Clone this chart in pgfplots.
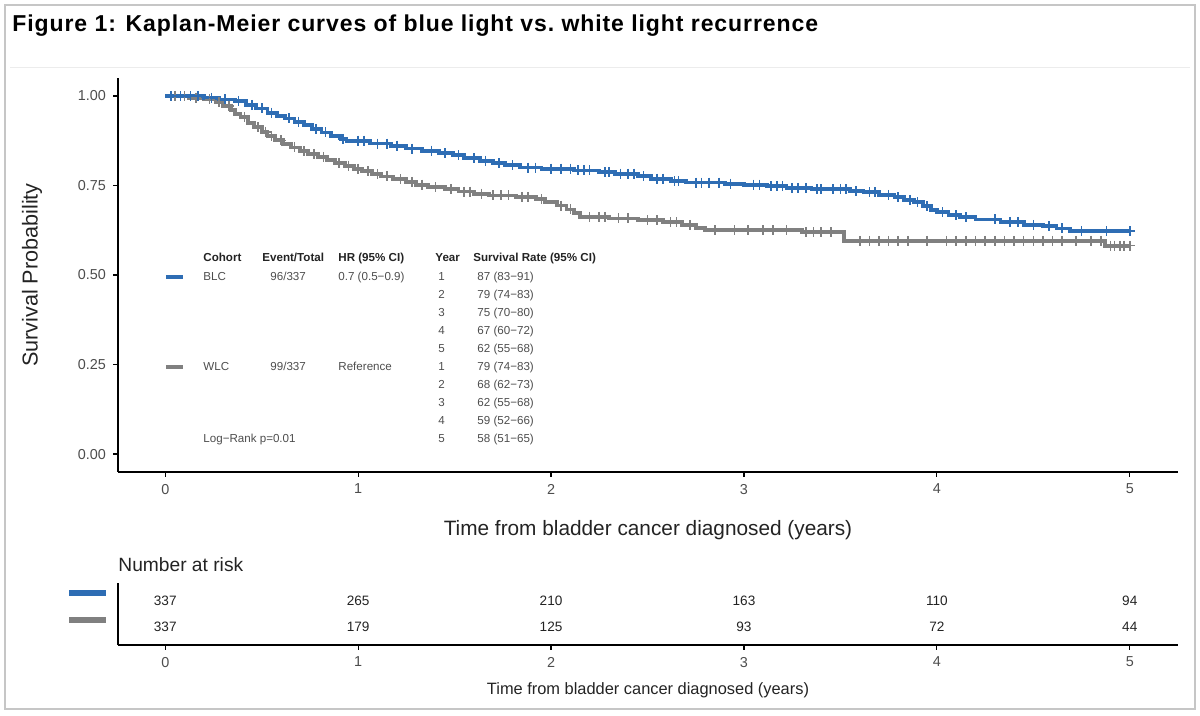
\documentclass[border=0pt]{standalone}
\usepackage{pgfplots}
\pgfplotsset{compat=1.18}
\usepackage{fontspec}
\setmainfont{Liberation Sans}
\definecolor{blc}{RGB}{46,109,180}
\definecolor{wlc}{RGB}{128,128,128}
\definecolor{txt}{RGB}{77,77,77}
\definecolor{dark}{RGB}{35,35,35}

\pgfplotstableread{
x y
0 1.000
0.20 0.995
0.28 0.990
0.36 0.985
0.42 0.975
0.47 0.965
0.53 0.953
0.58 0.945
0.62 0.937
0.67 0.928
0.72 0.918
0.76 0.908
0.81 0.898
0.86 0.889
0.91 0.880
0.94 0.875
1.06 0.867
1.17 0.861
1.25 0.853
1.33 0.847
1.42 0.840
1.49 0.834
1.55 0.826
1.63 0.819
1.70 0.812
1.76 0.806
1.84 0.800
1.95 0.797
2.12 0.792
2.25 0.788
2.33 0.783
2.45 0.776
2.52 0.769
2.62 0.762
2.70 0.758
2.90 0.755
3.00 0.752
3.12 0.748
3.22 0.743
3.35 0.739
3.55 0.735
3.62 0.731
3.70 0.724
3.78 0.717
3.83 0.710
3.88 0.703
3.93 0.692
3.97 0.682
4.00 0.675
4.06 0.667
4.12 0.661
4.20 0.655
4.33 0.648
4.45 0.640
4.55 0.636
4.62 0.630
4.69 0.622
5.00 0.622
}\blcdata

\pgfplotstableread{
x y
0 1.000
0.12 0.995
0.20 0.990
0.26 0.982
0.30 0.972
0.34 0.960
0.36 0.950
0.39 0.940
0.43 0.925
0.46 0.913
0.50 0.900
0.53 0.888
0.57 0.876
0.61 0.866
0.65 0.856
0.70 0.846
0.74 0.838
0.79 0.830
0.84 0.822
0.88 0.813
0.93 0.805
0.98 0.797
1.02 0.790
1.07 0.782
1.12 0.775
1.18 0.768
1.25 0.760
1.30 0.752
1.36 0.745
1.45 0.740
1.52 0.733
1.60 0.727
1.68 0.722
1.82 0.718
1.92 0.712
1.97 0.703
2.03 0.694
2.08 0.683
2.12 0.672
2.15 0.662
2.30 0.658
2.45 0.653
2.58 0.647
2.68 0.640
2.75 0.632
2.80 0.625
3.30 0.620
3.52 0.595
4.87 0.582
5.00 0.582
}\wlcdata

\pgfplotstableread{
x y
0.03 1.0
0.08 1.0
0.13 1.0
0.17 1.0
0.24 0.995
0.31 0.99
0.38 0.985
0.45 0.975
0.50 0.965
0.55 0.953
0.64 0.937
0.69 0.928
0.78 0.908
0.83 0.898
0.92 0.880
1.00 0.875
1.03 0.875
1.10 0.867
1.15 0.867
1.20 0.861
1.28 0.853
1.38 0.847
1.45 0.840
1.52 0.834
1.60 0.826
1.66 0.819
1.73 0.812
1.80 0.806
1.88 0.800
1.92 0.800
2.00 0.797
2.05 0.797
2.10 0.797
2.14 0.792
2.17 0.792
2.20 0.792
2.28 0.788
2.30 0.788
2.36 0.783
2.40 0.783
2.43 0.783
2.48 0.776
2.55 0.769
2.58 0.769
2.64 0.762
2.66 0.762
2.75 0.758
2.78 0.758
2.82 0.758
2.87 0.758
2.93 0.755
3.05 0.752
3.08 0.752
3.14 0.748
3.17 0.748
3.20 0.748
3.25 0.743
3.28 0.743
3.32 0.743
3.38 0.739
3.40 0.739
3.46 0.739
3.50 0.739
3.53 0.739
3.58 0.735
3.65 0.731
3.68 0.731
3.75 0.724
3.80 0.717
3.86 0.710
3.90 0.703
3.95 0.692
4.03 0.675
4.10 0.667
4.15 0.661
4.30 0.655
4.38 0.648
4.42 0.648
4.50 0.640
4.58 0.636
4.65 0.630
4.75 0.622
4.88 0.622
5.00 0.622
}\blccens

\pgfplotstableread{
x y
0.05 1.0
0.10 1.0
0.16 0.995
0.23 0.99
0.28 0.982
0.33 0.972
0.41 0.940
0.48 0.913
0.52 0.900
0.55 0.888
0.60 0.876
0.67 0.856
0.72 0.846
0.77 0.838
0.82 0.830
0.90 0.813
0.95 0.805
1.00 0.797
1.05 0.790
1.10 0.782
1.15 0.775
1.22 0.768
1.28 0.760
1.33 0.752
1.40 0.745
1.48 0.740
1.55 0.733
1.58 0.733
1.64 0.727
1.70 0.722
1.74 0.722
1.78 0.722
1.85 0.718
1.88 0.718
1.95 0.712
2.05 0.694
2.10 0.683
2.20 0.662
2.25 0.662
2.28 0.662
2.35 0.658
2.40 0.658
2.50 0.653
2.55 0.653
2.62 0.647
2.65 0.647
2.72 0.640
2.85 0.625
2.95 0.625
3.02 0.625
3.10 0.625
3.15 0.625
3.22 0.625
3.32 0.620
3.36 0.620
3.40 0.620
3.45 0.620
3.60 0.595
3.65 0.595
3.70 0.595
3.75 0.595
3.80 0.595
3.85 0.595
3.95 0.595
4.05 0.595
4.10 0.595
4.15 0.595
4.20 0.595
4.25 0.595
4.30 0.595
4.35 0.595
4.40 0.595
4.45 0.595
4.50 0.595
4.55 0.595
4.60 0.595
4.65 0.595
4.72 0.595
4.80 0.595
4.85 0.595
4.90 0.582
4.92 0.582
4.95 0.582
4.97 0.582
5.00 0.582
}\wlccens

\pgfplotstableread{
x y n
0 2 337
1 2 265
2 2 210
3 2 163
4 2 110
5 2 94
0 1 337
1 1 179
2 1 125
3 1 93
4 1 72
5 1 44
}\risk

\begin{document}
\begin{tikzpicture}
\useasboundingbox (0,0) rectangle (600pt,-358pt);
\draw[gray!45, line width=0.6pt] (2.5pt,-2.5pt) rectangle (597.5pt,-354.5pt);
\node[anchor=west, inner sep=0pt, font=\fontsize{11.5}{13}\selectfont\bfseries\addfontfeature{LetterSpace=4}] at (6pt,-12.75pt) {Figure 1: Kaplan-Meier curves of blue light vs.\ white light recurrence};
\draw[gray!15, line width=0.5pt] (5pt,-34pt) -- (595pt,-34pt);

\begin{axis}[
 at={(59pt,-236pt)}, anchor=south west, scale only axis, width=530pt, height=197pt,
 xmin=-0.245, xmax=5.25, ymin=-0.05, ymax=1.05,
 axis lines=left, axis line style={-, line width=0.6pt},
 xtick={0,1,2,3,4,5}, xticklabels={0,1,2,3,4,5},
 ytick={0,0.25,0.5,0.75,1}, yticklabels={0.00,0.25,0.50,0.75,1.00},
 tick align=outside, major tick length=2.5pt, tick style={black, line width=0.6pt},
 ticklabel style={font=\fontsize{7.2}{8}\selectfont, text=txt},
 clip=false
]
\addplot[const plot, wlc, line width=1.9pt] table {\wlcdata};
\addplot[only marks, mark=+, mark size=2.5pt, wlc, mark options={line width=0.8pt}] table {\wlccens};
\addplot[const plot, blc, line width=1.9pt] table {\blcdata};
\addplot[only marks, mark=+, mark size=2.5pt, blc, mark options={line width=0.8pt}] table {\blccens};
\end{axis}

% in-plot summary table
\begin{scope}[every node/.style={inner sep=0pt, anchor=base west, text=txt, font=\fontsize{5.8}{7}\selectfont}]
\def\hb{\fontsize{5.8}{7}\selectfont\bfseries}
\node[text=dark, font=\hb] at (101.5pt,-131pt) {Cohort};
\node[text=dark, font=\hb] at (131pt,-131pt) {Event/Total};
\node[text=dark, font=\hb] at (169pt,-131pt) {HR (95\% CI)};
\node[text=dark, font=\hb] at (217.5pt,-131pt) {Year};
\node[text=dark, font=\hb] at (236.5pt,-131pt) {Survival Rate (95\% CI)};
\draw[blc, line width=2pt] (83pt,-138.5pt) -- (91.5pt,-138.5pt);
\draw[wlc, line width=2pt] (83pt,-183.5pt) -- (91.5pt,-183.5pt);
\node at (101.5pt,-140.25pt) {BLC};
\node at (135pt,-140.25pt) {96/337};
\node at (169pt,-140.25pt) {0.7 (0.5−0.9)};
\node at (101.5pt,-185.25pt) {WLC};
\node at (135pt,-185.25pt) {99/337};
\node at (169pt,-185.25pt) {Reference};
\node at (101.5pt,-221.25pt) {Log−Rank p=0.01};
\foreach \yr/\sr [count=\i from 0] in {1/87 (83−91),2/79 (74−83),3/75 (70−80),4/67 (60−72),5/62 (55−68),1/79 (74−83),2/68 (62−73),3/62 (55−68),4/59 (52−66),5/58 (51−65)}{
  \node at (219pt,{-140.25pt-9*\i pt}) {\yr};
  \node at (238.5pt,{-140.25pt-9*\i pt}) {\sr};
}
\end{scope}

\node[text=dark, font=\fontsize{10.4}{12}\selectfont] at (324pt,-265pt) {Time from bladder cancer diagnosed (years)};
\node[text=dark, font=\fontsize{10.8}{12}\selectfont, rotate=90] at (16pt,-137.5pt) {Survival Probability};

% risk table
\node[anchor=west, inner sep=0pt, text=dark, font=\fontsize{9.6}{11}\selectfont] at (59pt,-282.5pt) {Number at risk};
\begin{axis}[
 at={(59pt,-322.5pt)}, anchor=south west, scale only axis, width=530pt, height=31pt,
 xmin=-0.245, xmax=5.25, ymin=0.3, ymax=2.7,
 axis lines=left, axis line style={-, line width=0.6pt},
 xtick={0,1,2,3,4,5}, xticklabels={0,1,2,3,4,5}, ytick=\empty,
 tick align=outside, major tick length=2.5pt, tick style={black, line width=0.6pt},
 ticklabel style={font=\fontsize{7.2}{8}\selectfont, text=txt},
 clip=false
]
\addplot[draw=none, mark=none, nodes near coords, point meta=explicit symbolic,
  every node near coord/.append style={anchor=center, inner sep=0pt, text=dark, font=\fontsize{6.8}{8}\selectfont}]
  table[meta=n] {\risk};
\end{axis}
\draw[blc, line width=3pt] (34.5pt,-296.5pt) -- (53pt,-296.5pt);
\draw[wlc, line width=3pt] (34.5pt,-310pt) -- (53pt,-310pt);
\node[text=dark, font=\fontsize{8.2}{10}\selectfont] at (324pt,-345pt) {Time from bladder cancer diagnosed (years)};
\end{tikzpicture}
\end{document}
